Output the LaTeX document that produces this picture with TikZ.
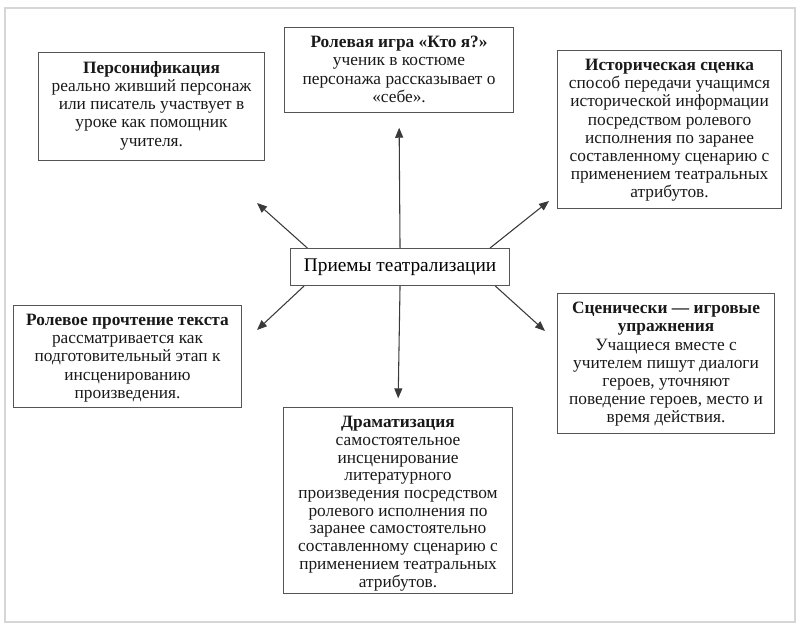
\documentclass[tikz,border=0pt]{standalone}
\usepackage{fontspec}
\setmainfont{Liberation Serif}
\usetikzlibrary{arrows.meta}
\definecolor{framegray}{HTML}{555555}
\definecolor{arrowgray}{HTML}{3A3A3A}
\definecolor{pagegray}{HTML}{D6D6D6}
% card text: height, width, body (top aligned)
\newcommand{\cardtext}[3]{\parbox[t][#1][t]{#2}{\centering\fontsize{13}{13.65}\selectfont #3}}
\begin{document}
\begin{tikzpicture}[x=0.75pt,y=-0.75pt,
  card/.style={draw=framegray,line width=0.8pt,inner xsep=3pt,inner ysep=6.5pt,anchor=north west,text=black!90},
  arr/.style={draw=arrowgray,line width=0.8pt,-{Triangle[length=7.5pt,width=6pt]}}]
\useasboundingbox (0,0) rectangle (800,629);
\draw[pagegray,line width=1pt] (5,8) rectangle (795,622);
% boxes
\node[card] (persona) at (38,52) {\cardtext{68pt}{163.5pt}{\textbf{Персонификация}\\
  реально живший персонаж\\ или писатель участвует в\\ уроке как помощник\\ учителя.}};
\node[card] (roleplay) at (284,27) {\cardtext{50.75pt}{165.75pt}{\textbf{Ролевая игра «Кто я?»}\\
  ученик в костюме\\ персонажа рассказывает о\\ «себе».}};
\node[card] (history) at (557,50) {\cardtext{105.5pt}{162pt}{\textbf{Историческая сценка}\\
  способ передачи учащимся\\ исторической информации\\ посредством ролевого\\
  исполнения по заранее\\ составленному сценарию с\\ применением театральных\\ атрибутов.}};
\node[card] (reading) at (13,305) {\cardtext{63.5pt}{165pt}{\textbf{Ролевое прочтение текста}\\
  рассматривается как\\ подготовительный этап к\\ инсценированию\\ произведения.}};
\node[card] (stage) at (557,293) {\cardtext{92pt}{156.75pt}{\textbf{Сценически — игровые}\\
  \textbf{упражнения}\\ Учащиеся вместе с\\ учителем пишут диалоги\\ героев, уточняют\\
  поведение героев, место и\\ время действия.}};
\node[card] (drama) at (283,407) {\cardtext{126.5pt}{165.75pt}{\fontsize{13}{13.3}\selectfont
  \textbf{Драматизация}\\
  самостоятельное\\ инсценирование\\ литературного\\ произведения посредством\\
  ролевого исполнения по\\ заранее самостоятельно\\ составленному сценарию с\\
  применением театральных\\ атрибутов.}};
\node[draw=framegray,line width=0.8pt,anchor=north west,minimum width=164.25pt,minimum height=27.75pt,
  font=\fontsize{14.5}{16}\selectfont] (centre) at (290,248) {Приемы театрализации};
% free arrow ends
\coordinate (tipUL) at (257,203);
\coordinate (tipUR) at (549,201);
\coordinate (tipDL) at (257,330);
\coordinate (tipDR) at (545,331);
% arrows
\draw[arr,shorten >=11pt] (centre.north) -- (roleplay.south);
\draw[arr,shorten >=6.5pt] (centre.south) -- (drama.north);
\draw[arr] ([xshift=13pt]centre.north west) -- (tipUL);
\draw[arr] ([xshift=-15pt]centre.north east) -- (tipUR);
\draw[arr] ([xshift=10.5pt]centre.south west) -- (tipDL);
\draw[arr] ([xshift=-11pt]centre.south east) -- (tipDR);
\end{tikzpicture}
\end{document}
